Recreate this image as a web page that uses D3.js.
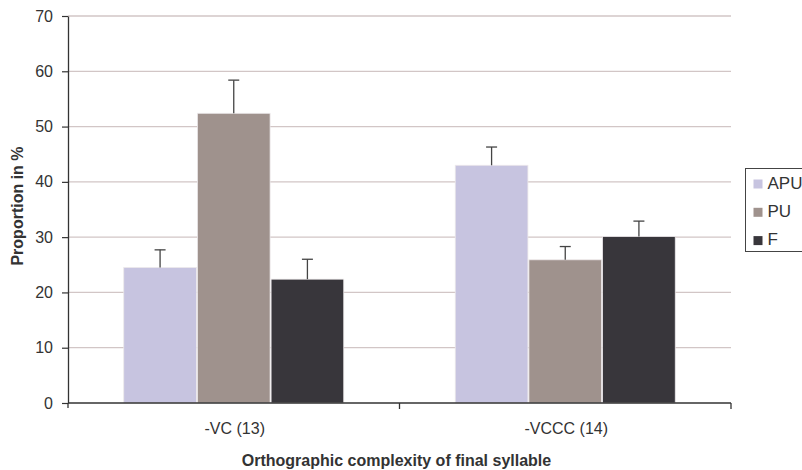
<!DOCTYPE html>
<html>
<head>
<meta charset="utf-8">
<script src="https://cdn.jsdelivr.net/npm/d3@7/dist/d3.min.js"></script>
<style>
  body { margin: 0; background: #fff; }
  svg { display: block; font-family: "Liberation Sans", Arial, sans-serif; }
</style>
</head>
<body>
<svg id="chart" width="802" height="470"></svg>
<script>
const categories = ["-VC (13)", "-VCCC (14)"];
const seriesNames = ["APU", "PU", "F"];
const seriesColors = ["#c7c4e0", "#9f928d", "#38363b"];
const apuValues = [24.5, 43.0];
const puValues = [52.4, 25.9];
const fValues = [22.4, 30.1];
const apuErrors = [3.2, 3.3];
const puErrors = [6.0, 2.4];
const fErrors = [3.6, 2.8];
const yTicks = [0, 10, 20, 30, 40, 50, 60, 70];

const values = [apuValues, puValues, fValues];
const errors = [apuErrors, puErrors, fErrors];

const svg = d3.select("#chart");
const plotLeft = 68, plotRight = 731, plotTop = 16, plotBottom = 403;
const textColor = "#333";

const x0 = d3.scaleBand().domain(categories).range([plotLeft, plotRight]).paddingInner(0).paddingOuter(0);
const groupWidth = x0.bandwidth() / 1.5;
const x1 = d3.scaleBand().domain(seriesNames).range([0, groupWidth]).padding(0);
const y = d3.scaleLinear().domain([0, 70]).range([plotBottom, plotTop]);

// horizontal gridlines
svg.append("g").selectAll("line").data(yTicks.filter(d => d > 0)).join("line")
  .attr("x1", plotLeft).attr("x2", plotRight)
  .attr("y1", d => y(d)).attr("y2", d => y(d))
  .attr("stroke", "#d2c6c6").attr("stroke-width", 1.3);

// bars with error bars
const groups = svg.append("g").selectAll("g").data(categories).join("g")
  .attr("transform", c => `translate(${x0(c) + (x0.bandwidth() - groupWidth) / 2},0)`);

groups.each(function(c, ci) {
  const g = d3.select(this);
  seriesNames.forEach((s, si) => {
    const v = values[si][ci];
    const e = errors[si][ci];
    const bx = x1(s);
    g.append("rect")
      .attr("x", bx + 0.5).attr("y", y(v))
      .attr("width", x1.bandwidth() - 1).attr("height", y(0) - y(v))
      .attr("fill", seriesColors[si])
      .attr("stroke", "#ece8ea").attr("stroke-width", 0.8);
    const cx = bx + x1.bandwidth() / 2;
    g.append("line").attr("x1", cx).attr("x2", cx)
      .attr("y1", y(v)).attr("y2", y(v + e))
      .attr("stroke", "#444").attr("stroke-width", 1.3);
    g.append("line").attr("x1", cx - 5.5).attr("x2", cx + 5.5)
      .attr("y1", y(v + e)).attr("y2", y(v + e))
      .attr("stroke", "#444").attr("stroke-width", 1.3);
  });
});

// y axis
const yAxis = d3.axisLeft(y).tickValues(yTicks).tickSize(6).tickSizeOuter(0).tickPadding(9);
const ya = svg.append("g").attr("transform", `translate(${plotLeft},0)`).call(yAxis);
ya.select(".domain").attr("stroke", "#333").attr("stroke-width", 1.3);
ya.selectAll(".tick line").attr("stroke", "#333").attr("stroke-width", 1.2);
ya.selectAll(".tick text").attr("font-size", 16).attr("fill", textColor)
  .attr("font-family", "Liberation Sans, Arial, sans-serif");
// axis line continues slightly below zero
svg.append("line").attr("x1", plotLeft).attr("x2", plotLeft)
  .attr("y1", plotBottom).attr("y2", plotBottom + 5)
  .attr("stroke", "#333").attr("stroke-width", 1.3);

// x axis
svg.append("line").attr("x1", plotLeft).attr("x2", plotRight).attr("y1", plotBottom).attr("y2", plotBottom)
  .attr("stroke", "#333").attr("stroke-width", 1.3);
const boundaries = [plotLeft + x0.bandwidth(), plotRight];
svg.append("g").selectAll("line").data(boundaries).join("line")
  .attr("x1", d => d).attr("x2", d => d)
  .attr("y1", plotBottom).attr("y2", plotBottom + 6)
  .attr("stroke", "#333").attr("stroke-width", 1.3);
svg.append("g").selectAll("text").data(categories).join("text")
  .attr("x", c => x0(c) + x0.bandwidth() / 2 + 1)
  .attr("y", 434)
  .attr("text-anchor", "middle")
  .attr("font-size", 16).attr("fill", textColor)
  .text(c => c);

// axis titles
svg.append("text")
  .attr("x", (plotLeft + plotRight) / 2 - 3).attr("y", 466)
  .attr("text-anchor", "middle")
  .attr("font-size", 16).attr("font-weight", "bold").attr("fill", textColor)
  .text("Orthographic complexity of final syllable");
svg.append("text")
  .attr("transform", "translate(23,206) rotate(-90)")
  .attr("text-anchor", "middle")
  .attr("font-size", 16).attr("font-weight", "bold").attr("fill", textColor)
  .text("Proportion in %");

// legend
const legend = svg.append("g").attr("transform", "translate(745.5,168.5)");
legend.append("rect").attr("x", 0).attr("y", 0).attr("width", 70).attr("height", 83)
  .attr("fill", "#fff").attr("stroke", "#444").attr("stroke-width", 1);
seriesNames.forEach((s, i) => {
  legend.append("rect").attr("x", 8).attr("y", 11 + i * 28.3).attr("width", 9).attr("height", 9)
    .attr("fill", seriesColors[i]);
  legend.append("text").attr("x", 22).attr("y", 20 + i * 28.3)
    .attr("font-size", 17).attr("fill", textColor).text(s);
});
</script>
</body>
</html>
